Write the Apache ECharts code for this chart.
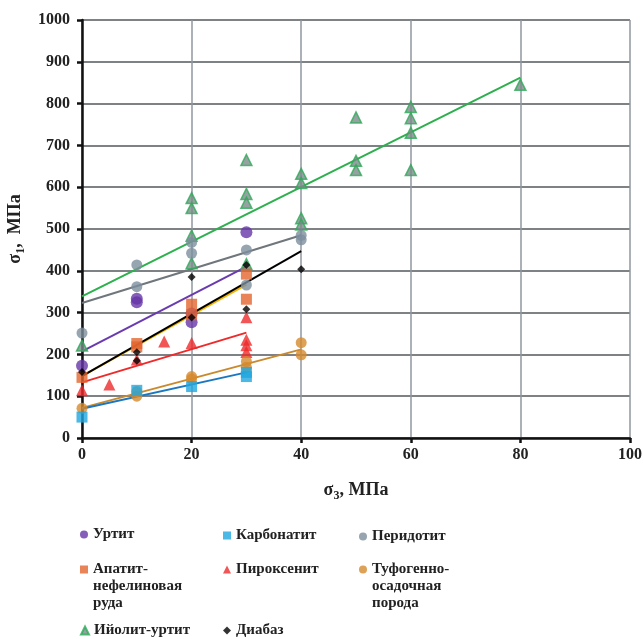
<!DOCTYPE html>
<html>
<head>
<meta charset="utf-8">
<script src="https://cdn.jsdelivr.net/npm/echarts@6/dist/echarts.min.js"></script>
<style>
  html, body { margin: 0; padding: 0; background: #fff; }
  #chart { width: 644px; height: 639px; }
</style>
</head>
<body>
<div id="chart"></div>
<script>
// точки [σ3, σ1], МПа
const urtit = [[0, 173], [10, 333], [10, 325], [20, 277], [20, 298], [30, 492]]
const karbonatit = [[0, 50], [10, 114], [20, 123], [30, 147], [30, 157]]
const peridotit = [[0, 251], [10, 414], [10, 362], [20, 468], [20, 442], [30, 450], [30, 366], [40, 485], [40, 474]]
const apatit = [[0, 145], [10, 226], [10, 218], [20, 320], [20, 295], [30, 392], [30, 332]]
const piroksenit = [[0, 114], [5, 128], [10, 188], [15, 231], [20, 227], [30, 289], [30, 235], [30, 222], [30, 206]]
const tufogen = [[0, 71], [10, 111], [10, 100], [20, 147], [20, 141], [30, 183], [30, 169], [40, 228], [40, 199]]
const iiolit = [[0, 221], [20, 574], [20, 550], [20, 484], [20, 418], [30, 665], [30, 584], [30, 563], [30, 416],
    [40, 632], [40, 610], [40, 526], [40, 511], [50, 767], [50, 663], [50, 641], [60, 792], [60, 765], [60, 730], [60, 641], [80, 845]]
const diabaz = [[0, 158], [10, 205], [10, 185], [20, 385], [20, 288], [30, 414], [30, 308], [40, 404]]

// линии тренда (концы)
const trendUrtit = [[0, 207], [30, 410]]
const trendKarb = [[0, 70], [30, 157]]
const trendPerid = [[0, 323], [40, 485]]
const trendApatit = [[0, 148], [30, 367]]
const trendPirok = [[0, 133], [30, 252]]
const trendTuf = [[0, 72], [40, 212]]
const trendIiolit = [[0, 339], [80, 862]]
const trendDiabaz = [[0, 148], [40, 447]]

const font = '"Liberation Serif", "DejaVu Serif", serif'

const myChart = echarts.init(document.getElementById('chart'))

const pts = (name, data, symbol, size, color, border) => ({
    name, type: 'scatter', data, symbol, symbolSize: size, z: 3,
    itemStyle: { color, borderColor: border || color, borderWidth: border ? 1.5 : 0 }
})
const trend = (data, color) => ({
    type: 'line', data, symbol: 'none', silent: true, z: 2,
    lineStyle: { color, width: 2 }
})
// многострочная подпись: пустые строки сверху, чтобы иконка стояла у первой строки
const leg = (name, left, top, icon) => ({
    data: [{ name, icon }], left, top, orient: 'vertical',
    itemWidth: 8, itemHeight: 8, itemGap: 0, padding: 0, selectedMode: false,
    textStyle: { fontFamily: font, fontWeight: 'bold', fontSize: 15, color: '#222', lineHeight: 17 },
    formatter: n => '\n'.repeat(n.split('\n').length - 1) + n
})
const nameRich = {
    a: { fontFamily: font, fontWeight: 'bold', fontSize: 18, color: '#222', lineHeight: 24 },
    s: { fontFamily: font, fontWeight: 'bold', fontSize: 12, color: '#222', lineHeight: 24, verticalAlign: 'bottom' }
}

myChart.setOption({
    animation: false,
    grid: { left: 82, right: 14, top: 20, height: 418, outerBoundsMode: 'none' },
    xAxis: {
        type: 'value', min: 0, max: 100, interval: 20,
        name: '{a|σ}{s|3}{a|, МПа}', nameLocation: 'middle', nameGap: 40,
        nameTextStyle: { rich: nameRich },
        axisLine: { onZero: false, lineStyle: { color: '#111', width: 2.5 } },
        axisTick: { show: true, inside: false, length: 5, lineStyle: { color: '#111', width: 2.5 } },
        axisLabel: { fontFamily: font, fontWeight: 'bold', fontSize: 16, color: '#222', margin: 9 },
        splitLine: { lineStyle: { color: '#8f979f', width: 1.5 } }
    },
    yAxis: {
        type: 'value', min: 0, max: 1000, interval: 100,
        name: '{a|σ}{s|1}{a|,  МПа}', nameLocation: 'middle', nameGap: 44, nameRotate: 90,
        nameTextStyle: { rich: nameRich },
        axisLine: { show: true, onZero: false, lineStyle: { color: '#111', width: 2.5 } },
        axisTick: { show: true, inside: false, length: 5, lineStyle: { color: '#111', width: 2.5 } },
        axisLabel: { fontFamily: font, fontWeight: 'bold', fontSize: 16, color: '#222', margin: 12, formatter: v => String(v) },
        splitLine: { lineStyle: { color: '#55595d', width: 1.5 } }
    },
    legend: [
        leg('Уртит', 80, 526, 'circle'),
        leg('Карбонатит', 223, 527, 'rect'),
        leg('Перидотит', 359, 528, 'circle'),
        leg('Апатит-\nнефелиновая\nруда', 80, 527, 'rect'),
        leg('Пироксенит', 223, 561, 'triangle'),
        leg('Туфогенно-\nосадочная\nпорода', 359, 527, 'circle'),
        leg('Ийолит-уртит', 80, 622, 'triangle'),
        leg('Диабаз', 223, 622, 'diamond')
    ],
    series: [
        trend(trendIiolit, '#2db04e'),
        trend(trendPerid, '#6f767c'),
        trend(trendUrtit, '#6a3ab0'),
        trend(trendApatit, '#f5b400'),
        trend(trendDiabaz, '#000000'),
        trend(trendPirok, '#ee2a2a'),
        trend(trendTuf, '#c98a2e'),
        trend(trendKarb, '#1b78c0'),
        pts('Ийолит-уртит', iiolit, 'triangle', 11, '#7c8a8a', '#2dab57'),
        pts('Перидотит', peridotit, 'circle', 11, '#7d8e9e'),
        pts('Уртит', urtit, 'circle', 12, '#6536a8'),
        pts('Апатит-\nнефелиновая\nруда', apatit, 'rect', 11, '#e4652e'),
        pts('Пироксенит', piroksenit, 'triangle', 12, '#ee2a2a'),
        pts('Туфогенно-\nосадочная\nпорода', tufogen, 'circle', 11, '#d68a2e'),
        pts('Карбонатит', karbonatit, 'rect', 11, '#1fa6e0'),
        pts('Диабаз', diabaz, 'diamond', 8, '#000000')
    ]
})
</script>
</body>
</html>
